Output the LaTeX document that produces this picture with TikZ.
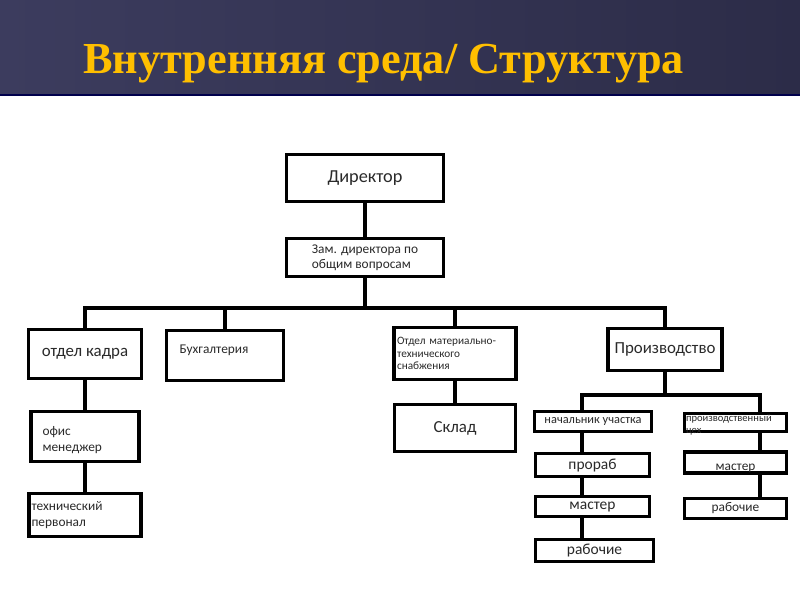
\documentclass[tikz,border=0pt]{standalone}
\usepackage{fontspec}
\setmainfont{Carlito}
\newfontfamily\titlefont{Liberation Serif}
\usetikzlibrary{positioning}

\definecolor{bandleft}{HTML}{3C3C5E}
\definecolor{bandright}{HTML}{2C2C48}
\definecolor{titlegold}{HTML}{FFBF00}
\definecolor{boxtext}{HTML}{2A2A2A}

\begin{document}
\begin{tikzpicture}[x=0.025cm, y=-0.025cm,
    box/.style={draw, line width=2.6pt, fill=white, inner sep=2pt, text=boxtext},
    wire/.style={line width=2.6pt},
    sz/.style 2 args={minimum width=#1*0.025cm, minimum height=#2*0.025cm},
    fhuge/.style={font=\fontsize{13}{15}\selectfont},
    fbig/.style={font=\fontsize{12}{14}\selectfont},
    fmid/.style={font=\fontsize{11}{13}\selectfont},
    fsm/.style={font=\fontsize{9.5}{10.8}\selectfont},
    ftiny/.style={font=\fontsize{8}{9}\selectfont}]
    \useasboundingbox (0,0) rectangle (800,600);
    \fill[white] (0,0) rectangle (800,600);

    % Draw the title band
    \shade[left color=bandleft, right color=bandright] (0,0) rectangle (800,95);
    \draw[line width=1pt, black!70!blue] (0,95) -- (800,95);
    \node[anchor=base west, inner sep=0pt, text=titlegold, font=\titlefont\bfseries\fontsize{31.5}{36}\selectfont] (title) at (83,73) {Внутренняя среда/ Структура};

    % Draw the top boxes
    \node[box, sz={157}{47}, fhuge] (dir) at (365,178) {Директор};
    \node[box, sz={157}{38}, fsm, align=left] (zam) at (365,257.5) {Зам. директора по\\общим вопросам};

    % Draw the departments
    \node[box, sz={113}{49}, fbig] (kadr) at (85,354) {отдел кадра};
    \node[box, sz={117}{50}, label={[fsm, text=boxtext, xshift=-11*0.025cm, yshift=5*0.025cm]center:Бухгалтерия}] (buh) at (225,355.5) {};
    \node[box, sz={121}{52}, ftiny, text width=116*0.025cm, align=left] (omts) at (455,353.5) {Отдел материально-\\технического\\снабжения};
    \node[box, sz={114}{42}, fbig] (prod) at (665,349.5) {Производство};

    % Draw the lower boxes
    \node[box, sz={108}{50}, label={[fsm, text=boxtext, align=left, text width=85*0.025cm, yshift=-3.5*0.025cm]center:офис\\менеджер}] (ofis) at (85,436.5) {};
    \node[box, sz={110}{43}, fsm, text width=107*0.025cm, align=left] (tech) at (85,515) {технический\\первонал};
    \node[box, sz={121}{47}, fbig] (sklad) at (455,428) {Склад};

    % Draw the production boxes
    \node[box, sz={117}{20}, font=\fontsize{8.8}{10}\selectfont] (nach) at (593,421.5) {начальник участка};
    \node[box, sz={114}{23}, fmid] (prorab) at (592.5,465) {прораб};
    \node[box, sz={114}{20}, fmid] (masterL) at (592.5,506.5) {мастер};
    \node[box, sz={118}{22}, fmid] (rabL) at (594.5,550.5) {рабочие};
    \node[box, sz={102}{18}, label={[font=\fontsize{7.5}{8.5}\selectfont, text=boxtext, align=left, text width=99*0.025cm, yshift=-2.5*0.025cm]center:производственный\\цех}] (cex) at (735.5,422.5) {};
    \node[box, sz={102}{18}, fsm, text height=11pt, text depth=0pt] (masterR) at (735.5,462.5) {мастер};
    \node[box, sz={102}{20}, fsm] (rabR) at (735.5,508.5) {рабочие};

    % Draw the wires between the boxes
    \coordinate (bus) at (365,308);
    \draw[wire] (dir) -- (zam);
    \draw[wire] (zam) -- (bus);
    \draw[wire] (kadr.north) |- (bus) -| (prod.north);
    \draw[wire] (bus -| buh.north) -- (buh.north);
    \draw[wire] (bus -| omts.north) -- (omts.north);
    \draw[wire] (kadr) -- (ofis);
    \draw[wire] (ofis) -- (tech);
    \draw[wire] (omts) -- (sklad);

    % Draw the wires under production
    \coordinate (pbus) at (665,395);
    \coordinate (lbus) at (582,395);
    \coordinate (rbus) at (760,395);
    \draw[wire] (prod) -- (pbus);
    \draw[wire] (nach.north -| lbus) |- (pbus) -| (cex.north -| rbus);
    \draw[wire] (nach.south -| lbus) -- (prorab.north -| lbus);
    \draw[wire] (prorab.south -| lbus) -- (masterL.north -| lbus);
    \draw[wire] (masterL.south -| lbus) -- (rabL.north -| lbus);
    \draw[wire] (cex.south -| rbus) -- (masterR.north -| rbus);
    \draw[wire] (masterR.south -| rbus) -- (rabR.north -| rbus);
\end{tikzpicture}
\end{document}
